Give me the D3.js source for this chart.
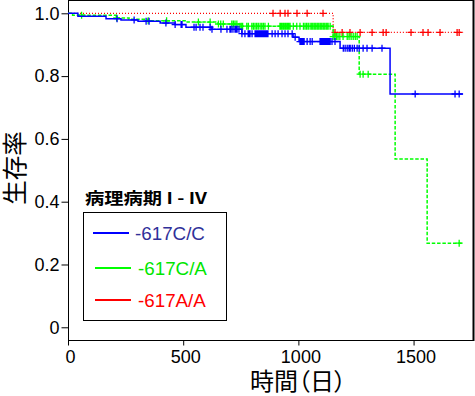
<!DOCTYPE html>
<html><head><meta charset="utf-8">
<script src="https://cdn.jsdelivr.net/npm/d3@7"></script>
<style>
body{margin:0;background:#fff;}
svg{display:block;}
</style></head>
<body><svg id="c" width="475" height="396"></svg>
<script>
// ---- data ----
const groups = ["-617C/C", "-617C/A", "-617A/A"];
const legendTitle = "病理病期 I - IV";
const xTicks = [0, 500, 1000, 1500];
const yTicks = [0, 0.2, 0.4, 0.6, 0.8, 1.0];
const endTime = 1715;

// -617C/C
const ccTimes = [0, 43, 165, 230, 304, 400, 465, 512, 625, 755, 977, 1003, 1181, 1398];
const ccSurv  = [1, 0.991, 0.983, 0.979, 0.975, 0.969, 0.964, 0.956, 0.949, 0.935, 0.924, 0.910, 0.889, 0.743];
const ccCensor = [213, 287, 339, 352, 425, 465, 491, 495, 547, 556, 573, 586, 617, 625, 664, 690, 703, 708, 716, 725, 729, 734, 742, 755,
  768, 782, 786, 790, 799, 812, 816, 820, 825, 830, 834, 838, 842, 847, 851, 855, 860, 864, 868, 886, 899, 912, 929, 942, 955, 973, 986,
  1007, 1012, 1016, 1020, 1025, 1038, 1051, 1060, 1094, 1099, 1103, 1107, 1112, 1116, 1120, 1125, 1129, 1133, 1138, 1146, 1159,
  1195, 1203, 1212, 1220, 1225, 1234, 1243, 1255, 1264, 1281, 1298, 1320, 1363, 1507, 1680, 1698];

// -617C/A
const caTimes = [0, 20, 208, 265, 347, 512, 651, 747, 1151, 1264, 1420, 1559];
const caSurv  = [1, 0.994, 0.985, 0.981, 0.976, 0.972, 0.966, 0.959, 0.926, 0.806, 0.536, 0.268];
const caCensor = [59, 211, 348, 428, 566, 617, 653, 663, 674, 711, 718, 725, 733, 747, 754, 758, 776, 783, 798, 805, 812, 819, 826, 834,
  841, 848, 855, 870, 920, 925, 930, 936, 942, 947, 953, 958, 964, 978, 993, 1007, 1022, 1029, 1036, 1043, 1051, 1058, 1064, 1071,
  1077, 1084, 1090, 1097, 1103, 1110, 1116, 1123, 1129, 1138, 1151, 1158, 1165, 1172, 1180, 1194, 1212, 1220, 1229, 1238, 1247, 1255,
  1268, 1281, 1303, 1698];

// -617A/A
const aaTimes = [0, 1151];
const aaSurv  = [1, 0.939];
const aaCensor = [890, 921, 942, 955, 994, 1038, 1107, 1159, 1190, 1224, 1268, 1320, 1368, 1381, 1489, 1541, 1563, 1615, 1689, 1698];

// ---- styling ----
const colors = ["#0000ff", "#00ff00", "#ff0000"];
const textColors = ["#303099", "#00e600", "#ff0000"];
const dashes = [null, "3.5,1.8", "1,2"];
const widths = [1.5, 1.5, 1.3];

const svg = d3.select("#c");
const x = d3.scaleLinear().domain([0, 1758]).range([68, 473]);
const y = d3.scaleLinear().domain([-0.0405, 1.0424]).range([340, 0]);

// frame (top, right)
svg.append("path").attr("d", `M68,0.5H473.5`).attr("stroke", "#000").attr("fill", "none");
svg.append("path").attr("d", `M473.5,0V341`).attr("stroke", "#000").attr("stroke-width", 2).attr("fill", "none");

// axes
const fontNum = "'Liberation Sans', Arial, sans-serif";
const yAxis = svg.append("g").attr("transform", "translate(68.5,0)")
  .call(d3.axisLeft(y).tickValues(yTicks).tickSize(7).tickSizeOuter(0).tickPadding(2)
        .tickFormat(d => d === 0 ? "0" : d3.format(".1f")(d)));
const xAxis = svg.append("g").attr("transform", "translate(0,340.5)")
  .call(d3.axisBottom(x).tickValues(xTicks).tickSize(5).tickSizeOuter(0).tickPadding(5)
        .tickFormat(d3.format("d")));
[yAxis, xAxis].forEach(a => {
  a.select(".domain").attr("stroke", "#000");
  a.selectAll("line").attr("stroke", "#000");
  a.selectAll("text").attr("font-family", fontNum).attr("font-size", 18).attr("fill", "#000");
});
yAxis.select(".domain").attr("d", "M0,0V341");
xAxis.select(".domain").attr("d", "M68,0H473");
xAxis.selectAll("text").attr("dx", 2);

// curves
const series = [
  {t: aaTimes, s: aaSurv, c: aaCensor, i: 2},
  {t: caTimes, s: caSurv, c: caCensor, i: 1},
  {t: ccTimes, s: ccSurv, c: ccCensor, i: 0}
];
const line = d3.line().x(d => x(d[0])).y(d => y(d[1])).curve(d3.curveStepAfter);
series.forEach(g => {
  const pts = g.t.map((t, k) => [t, g.s[k]]);
  pts.push([endTime, g.s[g.s.length - 1]]);
  svg.append("path").attr("d", line(pts)).attr("fill", "none")
    .attr("stroke", colors[g.i]).attr("stroke-width", widths[g.i])
    .attr("stroke-dasharray", dashes[g.i]);
  const h = 3.5;
  const cp = g.c.map(t => {
    const k = d3.bisectRight(g.t, t) - 1;
    const cx = x(t), cy = y(g.s[k]);
    return `M${cx - h},${cy}H${cx + h}M${cx},${cy - h}V${cy + h}`;
  }).join("");
  svg.append("path").attr("d", cp).attr("fill", "none")
    .attr("stroke", colors[g.i]).attr("stroke-width", 1.3);
});

// axis titles
const cjk = "'Noto Sans CJK JP', 'Noto Sans CJK SC', sans-serif";
svg.append("text").text("時間（日）").attr("x", 298).attr("y", 390)
  .attr("text-anchor", "middle").attr("font-family", cjk).attr("font-size", 24)
  .style("font-feature-settings", "'palt' 1").attr("fill", "#000");
svg.append("text").text("生存率").attr("transform", "translate(24,168) rotate(-90)")
  .attr("text-anchor", "middle").attr("font-family", cjk).attr("font-size", 24.5).attr("fill", "#000");

// legend
svg.append("text").text(legendTitle).attr("x", 85).attr("y", 204)
  .attr("font-family", cjk).attr("font-weight", "bold").attr("font-size", 16)
  .attr("textLength", 122).attr("lengthAdjust", "spacingAndGlyphs").attr("fill", "#000");
svg.append("rect").attr("x", 83.5).attr("y", 212.5).attr("width", 143).attr("height", 108)
  .attr("fill", "none").attr("stroke", "#000");
const legY = [233, 268, 300];
const legX1 = [93, 95, 95], legTX = [135, 138, 138];
groups.forEach((g, i) => {
  svg.append("line").attr("x1", legX1[i]).attr("x2", legX1[i] + 36).attr("y1", legY[i]).attr("y2", legY[i])
    .attr("stroke", colors[i]).attr("stroke-width", 2);
  svg.append("text").text(g).attr("x", legTX[i]).attr("y", legY[i] + 6.8)
    .attr("font-family", fontNum).attr("font-size", 18.8).attr("fill", textColors[i]);
});
</script></body></html>
